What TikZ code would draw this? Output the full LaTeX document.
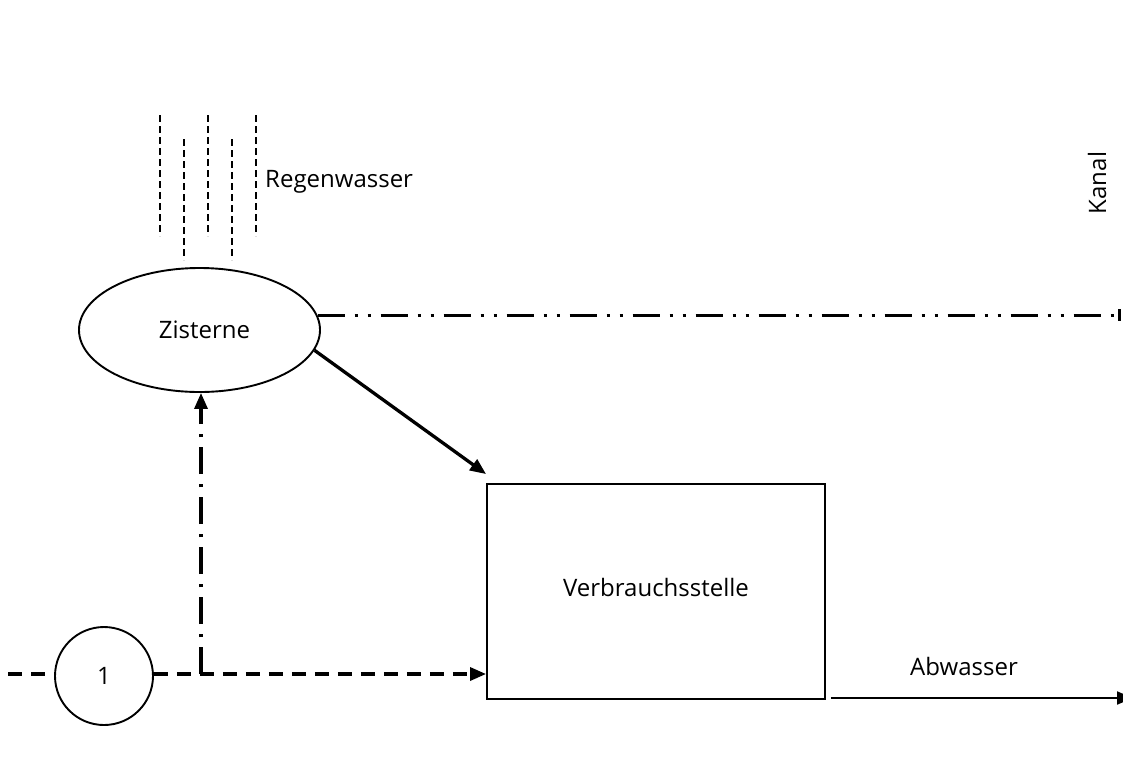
\documentclass[tikz,border=0pt]{standalone}
\usepackage{fontspec}
\setmainfont{Open Sans}
\usetikzlibrary{shapes.geometric,arrows.meta}
\begin{document}
\begin{tikzpicture}[x=1pt,y=-1pt,
  lbl/.style={font=\fontsize{24}{28}\selectfont, inner sep=0pt},
  thinline/.style={line width=1.9pt},
  rain/.style={line width=1.8pt, dash pattern=on 7pt off 4pt},
  dashline/.style={line width=3.3pt, dash pattern=on 14pt off 9pt},
  dashdot/.style={line width=3.3pt, dash pattern=on 27pt off 10pt on 3pt off 10pt},
  dashdotdot/.style={line width=3.3pt, dash pattern=on 27pt off 10pt on 3pt off 10pt on 3pt off 10pt},
  tip/.style={-{Triangle[length=16pt,width=13pt]}},
]
\useasboundingbox (0,0) rectangle (1123,769);

% rain
\foreach \x in {160,208,256} \draw[rain] (\x,115) -- (\x,236);
\foreach \x in {184,232} \draw[rain] (\x,139) -- (\x,260);
\node[lbl, anchor=west] (rw) at (265,182) {Regenwasser};

% nodes
\node[ellipse, draw, thinline, minimum width=241pt, minimum height=124pt, inner sep=0pt, lbl] (zis) at (199.5,330) {\hspace*{10pt}Zisterne};
\node[rectangle, draw, thinline, minimum width=338pt, minimum height=215pt, lbl] (vb) at (656,591.5) {\raisebox{8pt}{Verbrauchsstelle}};
\node[circle, draw, thinline, minimum size=98pt, inner sep=0pt, font=\fontsize{24}{28}\selectfont] (c1) at (104,676) {\raisebox{-3pt}{1}};

\node[lbl, rotate=90] (kanal) at (1097,183) {Kanal};
\node[lbl] (abw) at (964,666) {Abwasser};

% coordinates
\coordinate (lin) at (8,674);
\coordinate (j) at (201,674);
\coordinate (kend) at (1121,316);
\coordinate (aend) at (1133,698);

% connectors
\draw[dashline] (lin) -- (lin -| c1.west);
\draw[dashline, tip] (c1.east |- lin) -- (lin -| vb.west);
\draw[dashdot, tip] (j) -- (j |- zis.south);
\draw[line width=3.3pt, tip] (zis.-10) -- ([yshift=9pt]vb.north west);
\draw[dashdotdot, -{Bar[width=12pt,line width=3pt]}] (zis.7) -- (zis.7 -| kend);
\draw[thinline, tip] ([xshift=5pt]vb.south east |- aend) -- (aend);
\end{tikzpicture}
\end{document}
